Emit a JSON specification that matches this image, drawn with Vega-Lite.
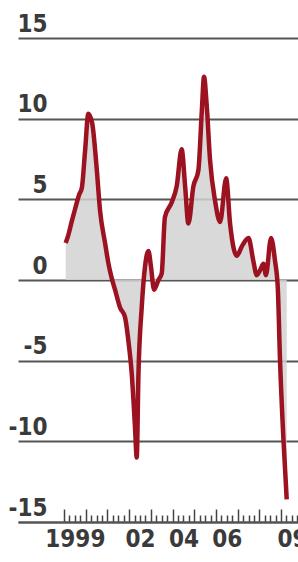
{
  "$schema": "https://vega.github.io/schema/vega-lite/v6.json",
  "autosize": "none",
  "width": 280,
  "height": 484,
  "padding": {"left": 18, "top": 38, "right": 0, "bottom": 40},
  "background": "white",
  "config": {"view": {"stroke": null}},
  "data": {"values": [
    {"t": 1999.08, "v": 2.3},
    {"t": 1999.18, "v": 2.7},
    {"t": 1999.35, "v": 3.6},
    {"t": 1999.51, "v": 4.4},
    {"t": 1999.7, "v": 5.3},
    {"t": 1999.82, "v": 5.7},
    {"t": 1999.97, "v": 8.0},
    {"t": 2000.12, "v": 10.3},
    {"t": 2000.3, "v": 9.7},
    {"t": 2000.5, "v": 7.0},
    {"t": 2000.66, "v": 4.3},
    {"t": 2000.89, "v": 2.3},
    {"t": 2001.05, "v": 1.0},
    {"t": 2001.2, "v": 0.1},
    {"t": 2001.35, "v": -0.6},
    {"t": 2001.58, "v": -1.7},
    {"t": 2001.81, "v": -2.3},
    {"t": 2001.96, "v": -3.7},
    {"t": 2002.12, "v": -5.8},
    {"t": 2002.27, "v": -9.1},
    {"t": 2002.35, "v": -11.0},
    {"t": 2002.43, "v": -5.8},
    {"t": 2002.58, "v": -1.7},
    {"t": 2002.73, "v": 0.8},
    {"t": 2002.89, "v": 1.8},
    {"t": 2003.0, "v": 0.9},
    {"t": 2003.15, "v": -0.6},
    {"t": 2003.35, "v": 0.0},
    {"t": 2003.5, "v": 0.4},
    {"t": 2003.65, "v": 3.9},
    {"t": 2003.96, "v": 4.8},
    {"t": 2004.19, "v": 5.8},
    {"t": 2004.42, "v": 8.1},
    {"t": 2004.58, "v": 5.8},
    {"t": 2004.73, "v": 3.5},
    {"t": 2004.96, "v": 5.8},
    {"t": 2005.19, "v": 6.8},
    {"t": 2005.35, "v": 10.5},
    {"t": 2005.45, "v": 12.6},
    {"t": 2005.57, "v": 10.9},
    {"t": 2005.73, "v": 7.4},
    {"t": 2005.96, "v": 4.9},
    {"t": 2006.19, "v": 3.6},
    {"t": 2006.47, "v": 6.3},
    {"t": 2006.65, "v": 3.5},
    {"t": 2006.96, "v": 1.5},
    {"t": 2007.2, "v": 2.1},
    {"t": 2007.5, "v": 2.6},
    {"t": 2007.72, "v": 1.2},
    {"t": 2007.88, "v": 0.3},
    {"t": 2008.03, "v": 0.6},
    {"t": 2008.19, "v": 1.0},
    {"t": 2008.3, "v": 0.3},
    {"t": 2008.54, "v": 2.6},
    {"t": 2008.72, "v": 1.2},
    {"t": 2008.85, "v": -0.5},
    {"t": 2008.95, "v": -4.9},
    {"t": 2009.11, "v": -9.9},
    {"t": 2009.26, "v": -13.6}
  ]},
  "encoding": {
    "x": {
      "field": "t", "type": "quantitative",
      "scale": {"domain": [1996.88, 2009.78], "nice": false, "zero": false},
      "axis": {
        "title": null,
        "grid": false,
        "domain": true, "domainColor": "#555", "domainWidth": 2,
        "values": [1999, 1999.25, 1999.5, 1999.75, 2000, 2000.25, 2000.5, 2000.75, 2001, 2001.25, 2001.5, 2001.75, 2002, 2002.25, 2002.5, 2002.75, 2003, 2003.25, 2003.5, 2003.75, 2004, 2004.25, 2004.5, 2004.75, 2005, 2005.25, 2005.5, 2005.75, 2006, 2006.25, 2006.5, 2006.75, 2007, 2007.25, 2007.5, 2007.75, 2008, 2008.25, 2008.5, 2008.75, 2009, 2009.25, 2009.5, 2009.75],
        "ticks": true,
        "tickColor": "#444",
        "tickWidth": 1.5,
        "tickSize": {"condition": {"test": "datum.value % 1 == 0", "value": -13}, "value": -7},
        "labelExpr": "datum.value == 1999 ? '1999' : datum.value == 2002 ? '02' : datum.value == 2004 ? '04' : datum.value == 2006 ? '06' : datum.value == 2009 ? '09' : ''",
        "labelOffset": 10.85,
        "labelPadding": 18,
        "labelFlush": false,
        "labelOverlap": false,
        "labelBound": false,
        "labelFont": "Liberation Sans Narrow, DejaVu Sans Condensed, sans-serif",
        "labelFontSize": 24,
        "labelFontWeight": "bold",
        "labelColor": "#3a3a3a"
      }
    },
    "y": {
      "field": "v", "type": "quantitative",
      "scale": {"domain": [-15, 15], "nice": false, "zero": false},
      "axis": {
        "title": null,
        "values": [-15, -10, -5, 0, 5, 10, 15],
        "grid": true, "gridColor": "#555", "gridWidth": 2,
        "ticks": false, "domain": false,
        "labelExpr": "datum.value < 0 ? '-' + abs(datum.value) : datum.label",
        "labelAlign": "right",
        "labelBaseline": "alphabetic",
        "labelPadding": -29,
        "labelOffset": -7,
        "labelFlush": false,
        "labelOverlap": false,
        "labelFont": "Liberation Sans Narrow, DejaVu Sans Condensed, sans-serif",
        "labelFontSize": 24,
        "labelFontWeight": "bold",
        "labelColor": "#3a3a3a"
      }
    }
  },
  "layer": [
    {
      "mark": {"type": "area", "interpolate": "monotone", "color": "#d2d2d2", "opacity": 0.85},
      "encoding": {"y2": {"datum": 0}}
    },
    {
      "mark": {"type": "line", "interpolate": "monotone", "color": "#9c1220", "strokeWidth": 4.5}
    }
  ]
}
